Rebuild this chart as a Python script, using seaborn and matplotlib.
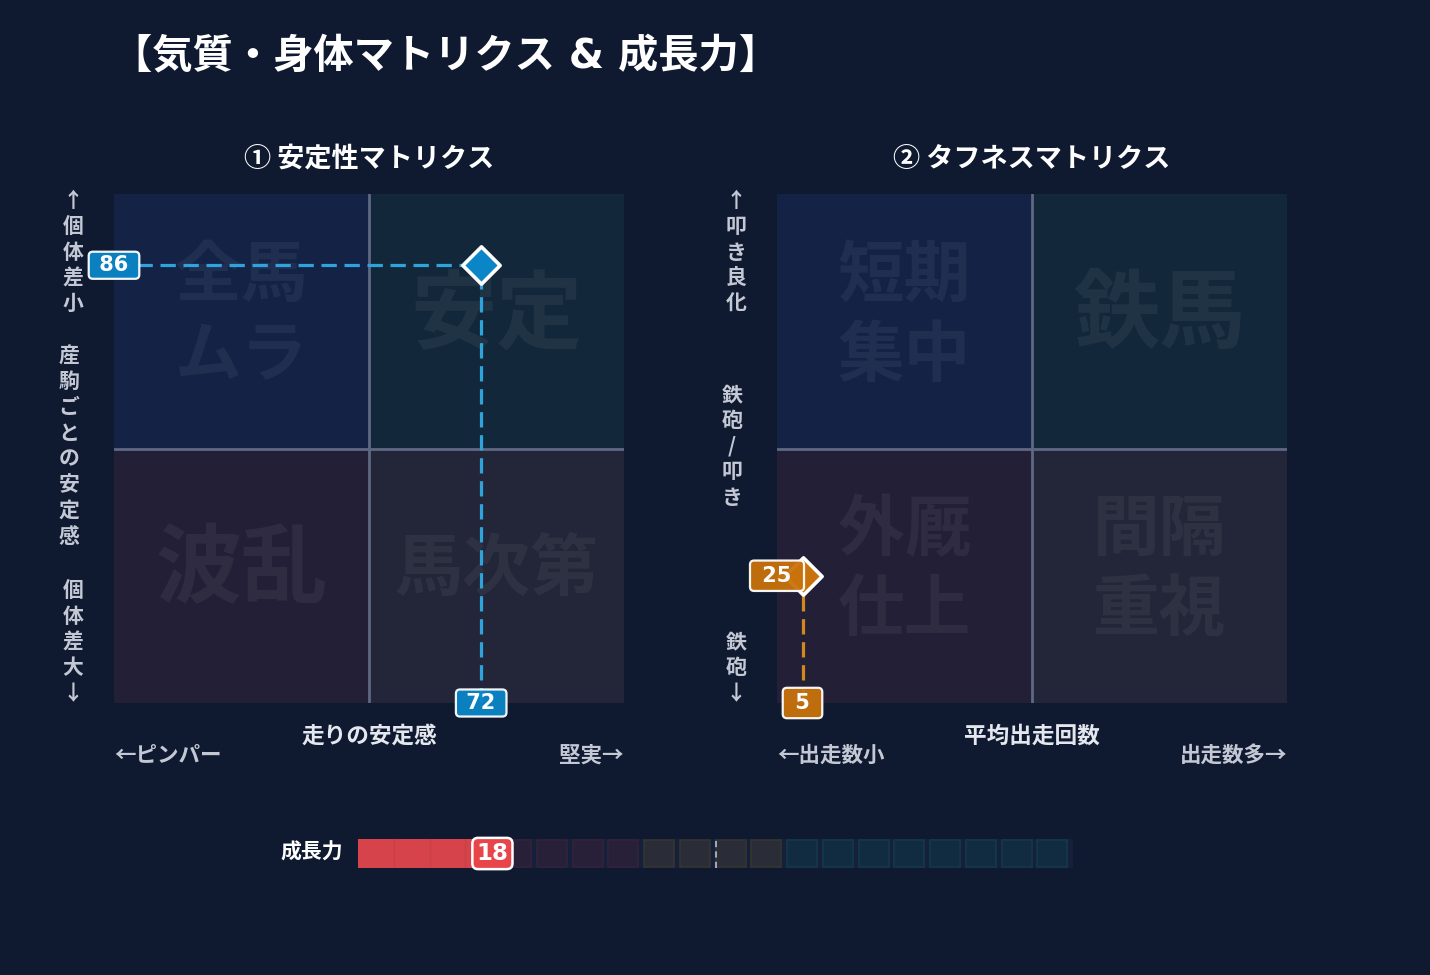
import numpy as np
import matplotlib
matplotlib.use("Agg")
import matplotlib.pyplot as plt
from matplotlib.patches import Rectangle
import seaborn as sns

# --- chart data ---
page_title = "【気質・身体マトリクス & 成長力】"
matrix_titles = ["① 安定性マトリクス", "② タフネスマトリクス"]
quad_labels_stab = ["全馬\nムラ", "安定", "波乱", "馬次第"]      # TL, TR, BL, BR
quad_labels_tough = ["短期\n集中", "鉄馬", "外厩\n仕上", "間隔\n重視"]
x_titles = ["走りの安定感", "平均出走回数"]
x_low = ["←ピンパー", "←出走数小"]
x_high = ["堅実→", "出走数多→"]
y_top = ["↑個体差小", "↑叩き良化"]
y_mid = ["産駒ごとの安定感", "鉄砲/叩き"]
y_bot = ["個体差大↓", "鉄砲↓"]
point_x = [72, 5]
point_y = [86, 25]
growth_label = "成長力"
growth_value = 18
growth_zone_edges = [0, 40, 60, 100]

# --- colours ---
BG = "#0f1a30"
QUAD_COLORS = ["#142246", "#12283a", "#231f37", "#222638"]
ACCENT = ["#0a86c8", "#c9720c"]
DASH = ["#2fa3dc", "#d3881c"]
BOX_PAD = [0.17, 0.25]
ZONE_FACE = ["#281f38", "#2a2c37", "#112c40"]
ZONE_EDGE = ["#33223c", "#353530", "#153848"]
GROWTH_RED = "#d6434a"
LABEL_RED = "#e8454a"
TEXT_GREY = "#c3c8d4"

sns.set_theme(style="dark")
plt.rcParams["font.family"] = ["DejaVu Sans", "Noto Sans CJK JP"]
plt.rcParams["axes.unicode_minus"] = False
CJK_FIRST = ["Noto Sans CJK JP", "DejaVu Sans"]

W, H = 1430, 975


def fx(px):
    return px / W


def fy(py):
    return 1 - py / H


def vstack(s):
    return "\n".join(list(s))


fig = plt.figure(figsize=(W / 100, H / 100), dpi=100, facecolor=BG)

fig.text(fx(112), fy(56), page_title, fontsize=29, fontweight="bold",
         color="white", ha="left", va="center")

matrix_left = [114, 777]
quad_sets = [quad_labels_stab, quad_labels_tough]

for k in range(2):
    left = matrix_left[k]
    ax = fig.add_axes([fx(left), fy(703), 510 / W, 509 / H])
    ax.set_facecolor(BG)
    ax.set_xlim(0, 100)
    ax.set_ylim(0, 100)
    ax.set_xticks([])
    ax.set_yticks([])
    for sp in ax.spines.values():
        sp.set_visible(False)

    # quadrants: TL, TR, BL, BR
    corners = [(0, 50), (50, 50), (0, 0), (50, 0)]
    for (qx, qy), col, lab in zip(corners, QUAD_COLORS, quad_sets[k]):
        ax.add_patch(Rectangle((qx, qy), 50, 50, facecolor=col, edgecolor="none", zorder=0))
        if "\n" in lab:
            fs = 48
        elif len(lab) == 2:
            fs = 62
        else:
            fs = 49
        ax.text(qx + 25, qy + 26, lab, fontsize=fs, fontweight="bold", color="white",
                alpha=0.055, ha="center", va="center", linespacing=1.25, zorder=1,
                family=CJK_FIRST)

    ax.axvline(50, color="#5f6883", lw=2, zorder=2)
    ax.axhline(50, color="#5f6883", lw=2, zorder=2)

    px_, py_ = point_x[k], point_y[k]
    ax.plot([0, px_], [py_, py_], color=DASH[k], lw=2.3, ls=(0, (4.8, 2.4)), zorder=3)
    ax.plot([px_, px_], [0, py_], color=DASH[k], lw=2.3, ls=(0, (4.8, 2.4)), zorder=3)

    sns.scatterplot(x=[px_], y=[py_], marker="D", s=360, color=ACCENT[k],
                    edgecolor="white", linewidth=2.6, ax=ax, zorder=4, clip_on=False,
                    legend=False)

    box = dict(boxstyle=f"round,pad={BOX_PAD[k]},rounding_size=0.2", fc=ACCENT[k],
               ec="white", lw=1.6, alpha=0.95)
    ax.text(0, py_, f" {py_} ", fontsize=15, fontweight="bold", color="white",
            ha="center", va="center", bbox=box, zorder=6, clip_on=False)
    ax.text(px_, 0, f" {px_} ", fontsize=15, fontweight="bold", color="white",
            ha="center", va="center", bbox=box, zorder=6, clip_on=False)

    cx = left + 255
    fig.text(fx(cx), fy(159), matrix_titles[k], fontsize=19.5, fontweight="bold",
             color="white", ha="center", va="center", family=CJK_FIRST)
    fig.text(fx(cx), fy(736), x_titles[k], fontsize=16.3, fontweight="bold",
             color="#e4e7ee", ha="center", va="center", family=CJK_FIRST)
    fig.text(fx(left), fy(755), x_low[k], fontsize=15.5, fontweight="bold",
             color=TEXT_GREY, ha="left", va="center", family=CJK_FIRST)
    fig.text(fx(left + 510), fy(755), x_high[k], fontsize=15.5, fontweight="bold",
             color=TEXT_GREY, ha="right", va="center", family=CJK_FIRST)

    fig.text(fx(left - 41), fy(190), vstack(y_top[k]), fontsize=15, fontweight="bold",
             color=TEXT_GREY, ha="center", va="top", linespacing=1.28, family=CJK_FIRST)
    fig.text(fx(left - 45), fy(446), vstack(y_mid[k]), fontsize=15, fontweight="bold",
             color=TEXT_GREY, ha="center", va="center", linespacing=1.28, family=CJK_FIRST)
    fig.text(fx(left - 41), fy(704), vstack(y_bot[k]), fontsize=15, fontweight="bold",
             color=TEXT_GREY, ha="center", va="bottom", linespacing=1.28, family=CJK_FIRST)

# --- growth gauge ---
gax = fig.add_axes([fx(358), fy(868), 715 / W, 29 / H])
gax.set_facecolor(BG)
gax.set_xlim(0, 100)
gax.set_ylim(0, 1)
gax.set_xticks([])
gax.set_yticks([])
for sp in gax.spines.values():
    sp.set_visible(False)

gax.barh(0.5, 100, left=0, height=1, color="#15213b", linewidth=0, zorder=0)
for start in range(0, 100, 5):
    zone = np.searchsorted(growth_zone_edges, start, side="right") - 1
    gax.barh(0.5, 4.2, left=start, height=0.96, color=ZONE_FACE[zone],
             edgecolor=ZONE_EDGE[zone], linewidth=1.2, zorder=1)
gax.barh(0.5, growth_value, left=0, height=1, color=GROWTH_RED, linewidth=0, zorder=2)
for start in range(5, growth_value, 5):
    gax.axvline(start, color="black", alpha=0.05, lw=1, zorder=3)
gax.axvline(50, color="#a0a6b2", lw=1.5, ls=(0, (3, 2)), zorder=3)
gax.text(growth_value + 0.8, 0.5, str(growth_value), fontsize=16.5,
         fontweight="bold", color="white", ha="center", va="center", zorder=5,
         clip_on=False,
         bbox=dict(boxstyle="round,pad=0.18,rounding_size=0.25", fc=LABEL_RED,
                   ec="white", lw=1.8))

fig.text(fx(343), fy(852), growth_label, fontsize=15, fontweight="bold",
         color="white", ha="right", va="center")

fig.savefig("out.png", dpi=100, facecolor=BG)
